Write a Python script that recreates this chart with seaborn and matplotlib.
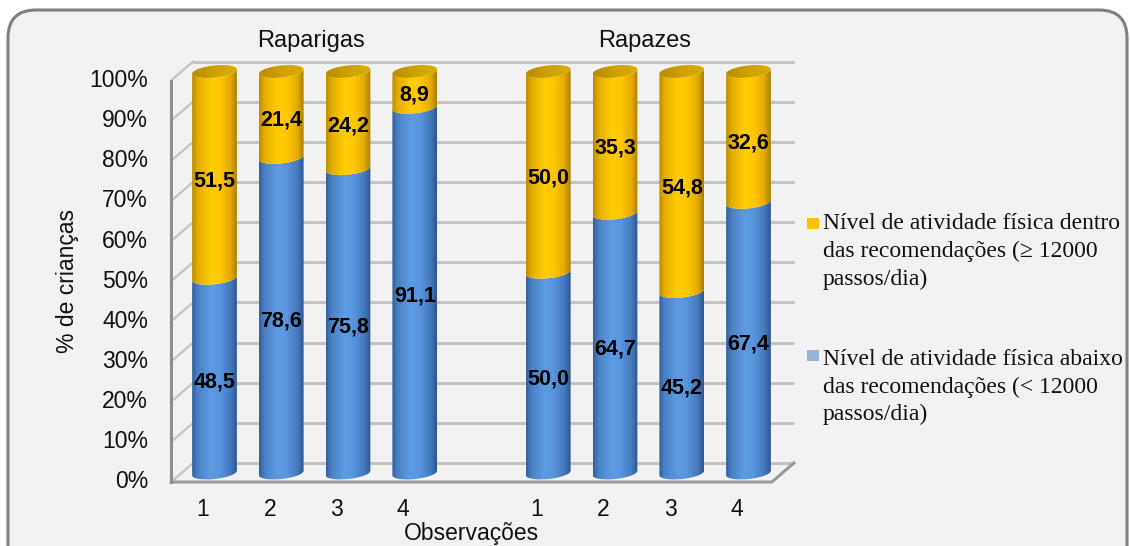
import numpy as np
import pandas as pd
import matplotlib
matplotlib.use("Agg")
import matplotlib.pyplot as plt
import seaborn as sns
from matplotlib.patches import Polygon, FancyBboxPatch, Rectangle
from matplotlib.colors import LinearSegmentedColormap
from matplotlib import transforms as mtransforms

# ---- data -------------------------------------------------------------
groups = ["Raparigas", "Rapazes"]
observations = ["1", "2", "3", "4"]
below_raparigas = [48.5, 78.6, 75.8, 91.1]
within_raparigas = [51.5, 21.4, 24.2, 8.9]
below_rapazes = [50.0, 64.7, 45.2, 67.4]
within_rapazes = [50.0, 35.3, 54.8, 32.6]
y_ticks = [0, 10, 20, 30, 40, 50, 60, 70, 80, 90, 100]
x_title = "Observações"
y_title = "% de crianças"
legend_within = "Nível de atividade física dentro\ndas recomendações (≥ 12000\npassos/dia)"
legend_below = "Nível de atividade física abaixo\ndas recomendações (< 12000\npassos/dia)"

# ---- styling ----------------------------------------------------------
W, H, DPI = 1131, 546, 100
SANS = ["Liberation Sans", "DejaVu Sans"]
SERIF = ["Liberation Serif", "DejaVu Serif"]
YELLOW = "#FFC000"
BLUE = "#558ED5"
LEG_BLUE = "#95B3D7"
GRID = "#c4c4c4"
EDGE = "#9a9a9a"

blue_cmap = LinearSegmentedColormap.from_list(
    "cyl_blue", [(0.0, "#355f98"), (0.12, "#4a80c4"), (0.42, "#5d9be2"),
                 (0.62, "#5895dc"), (0.86, "#4579bd"), (1.0, "#2c5690")])
yellow_cmap = LinearSegmentedColormap.from_list(
    "cyl_yellow", [(0.0, "#b98c00"), (0.12, "#e2ad00"), (0.42, "#ffcc00"),
                   (0.62, "#ffc800"), (0.86, "#e3aa00"), (1.0, "#a97d00")])
cap_cmap = LinearSegmentedColormap.from_list(
    "cyl_cap", [(0.0, "#b88b00"), (0.5, "#cfa200"), (1.0, "#d9ad00")])

# ---- figure & coordinate system ----------------------------------------
fig = plt.figure(figsize=(W / DPI, H / DPI), dpi=DPI)
fig.patch.set_facecolor("white")
frame = FancyBboxPatch((8, -40), 1119, 576,
                       boxstyle="round,pad=0,rounding_size=28",
                       transform=mtransforms.IdentityTransform(),
                       facecolor="#f2f2f2", edgecolor="#808080", lw=2.2, zorder=0)
fig.add_artist(frame)

ax = fig.add_axes([0, 0, 1, 1])
ax.patch.set_visible(False)

SLOT_PX = 66.75      # pixels per category slot
PCT_PX = 4.015       # pixels per percent
X0_PX, Y0_PX = 214.5, 473.0
XLIM = (-X0_PX / SLOT_PX, (W - X0_PX) / SLOT_PX)
YLIM = (-(H - Y0_PX) / PCT_PX, Y0_PX / PCT_PX)


def px2data(xp, yp):
    return (xp - X0_PX) / SLOT_PX, (Y0_PX - yp) / PCT_PX


# bar slots: two groups of four with an empty slot between them
positions = [g * 5 + i for g in range(len(groups)) for i in range(len(observations))]
below_all = below_raparigas + below_rapazes
within_all = within_raparigas + within_rapazes
df = pd.DataFrame({
    "pos": positions,
    "below": below_all,
    "within": within_all,
})
df["total"] = df["below"] + df["within"]

n0 = len(ax.patches)
sns.barplot(data=df, x="pos", y="total", native_scale=True, width=0.67,
            color=YELLOW, errorbar=None, ax=ax)
total_bars = sorted(ax.patches[n0:], key=lambda p: p.get_x())
n1 = len(ax.patches)
sns.barplot(data=df, x="pos", y="below", native_scale=True, width=0.67,
            color=BLUE, errorbar=None, ax=ax)
below_bars = sorted(ax.patches[n1:], key=lambda p: p.get_x())
for p in total_bars + below_bars:
    p.set_visible(False)

# ---- 3D box: walls, floor, axis ----------------------------------------
XL, XR = -0.5, 8.5
FDX, FDP = -10 / SLOT_PX, -9 / PCT_PX      # front plane offset
BDX, BDP = 12 / SLOT_PX, 10 / PCT_PX       # back plane offset

for t in y_ticks:
    ax.plot([XL + BDX, XR + BDX], [t + BDP, t + BDP], color=GRID, lw=2.2,
            solid_capstyle="butt", zorder=1)
    ax.plot([XL + FDX, XL + BDX], [t + FDP, t + BDP], color=GRID, lw=1.6, zorder=1)
ax.plot([XL + FDX, XR + FDX, XR + BDX], [FDP, FDP, BDP], color=EDGE, lw=2.2,
        solid_joinstyle="miter", zorder=1)
ax.plot([XL + FDX, XL + FDX], [FDP, 100 + FDP], color="#8f8f8f", lw=2.2, zorder=2)

for t in y_ticks:
    ax.text(XL + FDX - 0.345, t + FDP, f"{t}%", ha="right", va="center",
            fontsize=16.5, family=SANS, color="#111111")

# ---- cylinders ---------------------------------------------------------
B_ELL = 1.5          # ellipse half-height (percent)
TILT = 1.66          # perspective tilt (percent per slot)


def front_curve(cx, a, v, n=48):
    t = np.linspace(np.pi, 2 * np.pi, n)
    xs = cx + a * np.cos(t)
    ys = v + B_ELL * np.sin(t) + TILT * (xs - cx)
    return xs, ys


def shaded(verts, x0, x1, ylo, yhi, cmap, z):
    poly = Polygon(verts, closed=True, facecolor="none", edgecolor="none", zorder=z)
    ax.add_patch(poly)
    grad = np.linspace(0, 1, 256)[None, :]
    im = ax.imshow(grad, extent=[x0, x1, ylo, yhi], cmap=cmap, aspect="auto",
                   origin="lower", interpolation="bilinear", zorder=z)
    im.set_clip_path(poly)


def fmt(v):
    return f"{v:.1f}".replace(".", ",")


for tb, bb, blo, wit in zip(total_bars, below_bars, below_all, within_all):
    x0, w = bb.get_x(), bb.get_width()
    cx, a = x0 + w / 2, w / 2
    v_mid, v_top = bb.get_height(), tb.get_height()

    # lower segment
    xa, ya = front_curve(cx, a, 0.0)
    xb, yb = front_curve(cx, a, v_mid)
    verts = np.column_stack([np.r_[xa, xb[::-1]], np.r_[ya, yb[::-1]]])
    shaded(verts, x0, x0 + w, -5, v_mid + 5, blue_cmap, 3)

    # upper segment
    xc, yc = front_curve(cx, a, v_top)
    verts = np.column_stack([np.r_[xb, xc[::-1]], np.r_[yb, yc[::-1]]])
    shaded(verts, x0, x0 + w, v_mid - 5, v_top + 5, yellow_cmap, 4)

    # top cap
    t = np.linspace(0, 2 * np.pi, 96)
    xs = cx + a * np.cos(t)
    ys = v_top + B_ELL * np.sin(t) + TILT * (xs - cx)
    shaded(np.column_stack([xs, ys]), x0, x0 + w, v_top - 5, v_top + 5, cap_cmap, 5)

    ax.text(cx, v_mid / 2 - 1.5, fmt(blo), ha="center", va="center",
            fontsize=15.5, fontweight="bold", family=SANS, color="black", zorder=6)
    ax.text(cx, v_mid + (v_top - v_mid) / 2 - 1.5, fmt(wit), ha="center", va="center",
            fontsize=15.5, fontweight="bold", family=SANS, color="black", zorder=6)

# ---- category labels & titles -------------------------------------------
for pos, lab in zip(positions, observations * len(groups)):
    ax.text(pos - 0.172, -9.2, lab, ha="center", va="center",
            fontsize=16.5, family=SANS, color="#111111")

for g, name in enumerate(groups):
    ax.text(g * 5 + 1.5 - 0.05, 106.1, name, ha="center", va="baseline",
            fontsize=17, family=SANS, color="#111111")

ax.text((XL + XR) / 2 + FDX, -15.0, x_title, ha="center", va="center",
        fontsize=16.5, family=SANS, color="#111111")
ax.text(-2.195, 50 + FDP, y_title, ha="center", va="center", rotation=90,
        fontsize=16.5, family=SANS, color="#111111")

# ---- legend ---------------------------------------------------------------
for colour, text, sq_top, block_mid in [(YELLOW, legend_within, 218, 251.5),
                                         (LEG_BLUE, legend_below, 350, 387)]:
    sx, sy = px2data(807, sq_top + 11)
    ax.add_patch(Rectangle((sx, sy), 12 / SLOT_PX, 11 / PCT_PX,
                           facecolor=colour, edgecolor="none", zorder=6))
    tx, ty = px2data(823, block_mid)
    ax.text(tx, ty, text, ha="left", va="center", fontsize=17,
            family=SERIF, color="#111111", linespacing=1.39)

ax.set_xlim(*XLIM)
ax.set_ylim(*YLIM)
ax.axis("off")

fig.savefig("out.png", dpi=DPI, facecolor="white")
